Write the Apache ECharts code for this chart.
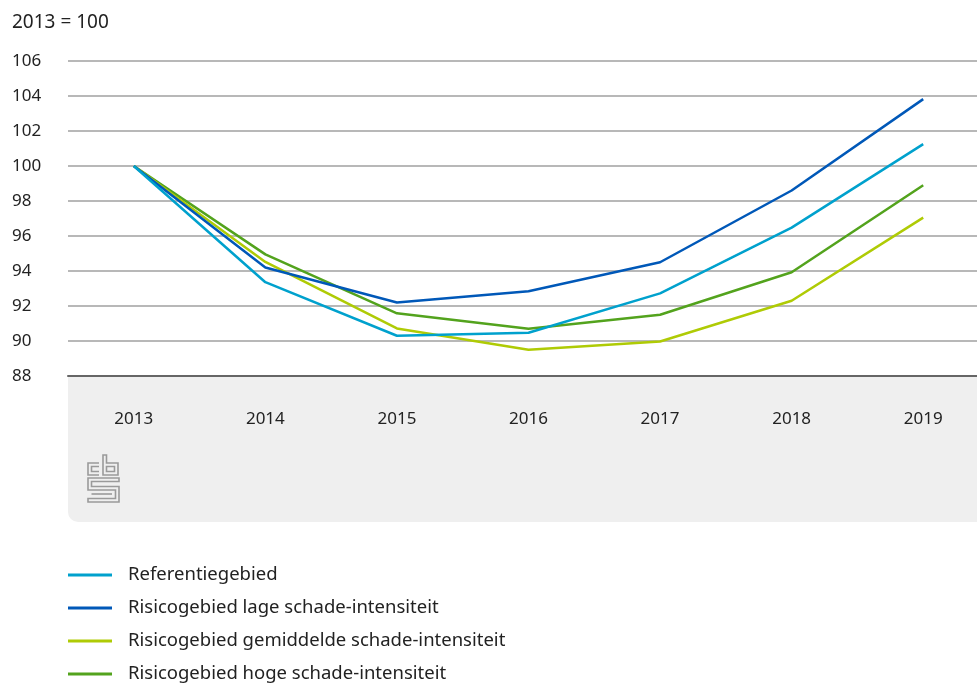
<!DOCTYPE html>
<html>
<head>
<meta charset="utf-8">
<script src="https://cdn.jsdelivr.net/npm/echarts@6/dist/echarts.min.js"></script>
<style>
html,body{margin:0;padding:0;background:#fff;}
#chart{width:977px;height:683px;}
</style>
</head>
<body>
<div id="chart"></div>
<script>
var years = ['2013','2014','2015','2016','2017','2018','2019'];
var referentie = [100, 93.36, 90.3, 90.47, 92.72, 96.48, 101.25];
var lage = [100, 94.2, 92.2, 92.84, 94.5, 98.6, 103.82];
var gemiddelde = [100, 94.52, 90.72, 89.5, 89.97, 92.3, 97.05];
var hoge = [100, 94.95, 91.58, 90.7, 91.5, 93.93, 98.9];
var seriesNames = ['Referentiegebied','Risicogebied lage schade-intensiteit','Risicogebied gemiddelde schade-intensiteit','Risicogebied hoge schade-intensiteit'];
var seriesColors = ['#00a1cd','#0058b8','#afcb05','#53a31d'];
var seriesData = [referentie, lage, gemiddelde, hoge];

var FONT = 'Noto Sans';
var chart = echarts.init(document.getElementById('chart'));

var series = seriesNames.map(function(n, i){
  return {
    name: n, type: 'line', data: seriesData[i],
    symbol: 'none', smooth: false,
    lineStyle: {color: seriesColors[i], width: 2.5},
    itemStyle: {color: seriesColors[i]},
    z: 3 + (3 - i)
  };
});

var legends = seriesNames.map(function(n, i){
  return {
    orient: 'vertical', left: 63, top: 559 + i * 33,
    itemWidth: 44, itemHeight: 3, icon: 'rect',
    data: [n],
    textStyle: {fontFamily: FONT, fontSize: 18.5, color: '#222', lineHeight: 22, padding: [0,0,0,11]}
  };
});

var logoStyle = {stroke: '#9a9a9a', lineWidth: 1.6, fill: null};
chart.setOption({
  animation: false,
  textStyle: {fontFamily: FONT},
  title: {
    text: '2013 = 100', left: 12, top: 13, padding: 0,
    textStyle: {fontFamily: FONT, fontSize: 19, fontWeight: 'normal', color: '#222'}
  },
  grid: {left: 68, width: 921, top: 61, bottom: 307, containLabel: false, outerBoundsMode: 'none'},
  xAxis: {
    type: 'category', data: years, boundaryGap: true,
    axisLine: {lineStyle: {color: '#666', width: 2}},
    axisTick: {alignWithLabel: true, length: 14, lineStyle: {color: '#c8c8c8', width: 1.5}},
    axisLabel: {margin: 35, fontSize: 17, color: '#222', fontFamily: FONT},
    splitLine: {show: false}
  },
  yAxis: {
    type: 'value', min: 88, max: 106, interval: 2,
    axisLine: {show: false}, axisTick: {show: false},
    axisLabel: {align: 'left', margin: 56, fontSize: 17, color: '#222', fontFamily: FONT},
    splitLine: {lineStyle: {color: '#a0a0a0', width: 1.5}}
  },
  legend: legends,
  graphic: [
    {type: 'rect', z: -1, shape: {x: 68, y: 377, width: 920, height: 145, r: [0,0,0,10]}, style: {fill: '#efefef'}},
    {type: 'polyline', z: 1, shape: {points: [[99,463],[88,463],[88,475],[99,475]]}, style: logoStyle},
    {type: 'polyline', z: 1, shape: {points: [[99,466.5],[91.5,466.5],[91.5,471.5],[99,471.5]]}, style: logoStyle},
    {type: 'polygon', z: 1, shape: {points: [[103,455],[103,475],[118,475],[118,463],[106.5,463],[106.5,455]]}, style: logoStyle},
    {type: 'polygon', z: 1, shape: {points: [[106.5,466.5],[114.5,466.5],[114.5,471.5],[106.5,471.5]]}, style: logoStyle},
    {type: 'polygon', z: 1, shape: {points: [[119,478],[88,478],[88,490],[115.5,490],[115.5,498.5],[88,498.5],[88,502],[119,502],[119,486.5],[91.5,486.5],[91.5,481.5],[119,481.5]]}, style: logoStyle},
    {type: 'polyline', z: 1, shape: {points: [[91.5,494],[112,494]]}, style: logoStyle}
  ],
  series: series
});
</script>
</body>
</html>
